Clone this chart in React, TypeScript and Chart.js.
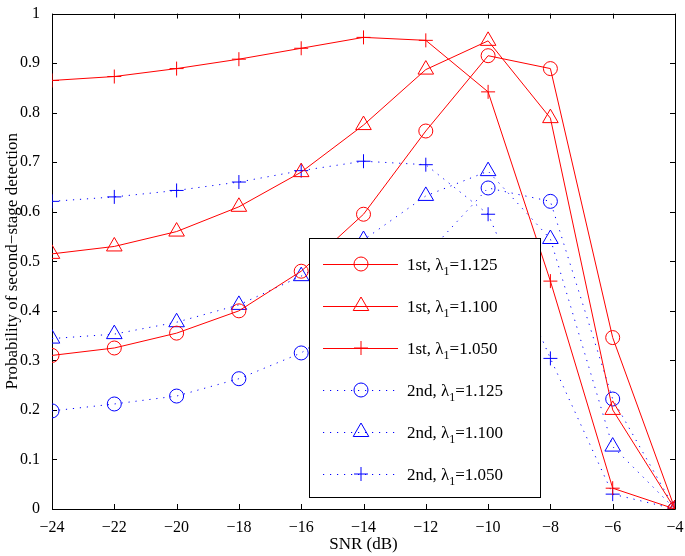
import React, { useEffect, useRef } from "react";
import { Chart, registerables } from "chart.js";

Chart.register(...registerables);

const snr = [-24, -22, -20, -18, -16, -14, -12, -10, -8, -6, -4];
const first1125 = [0.31, 0.325, 0.355, 0.4, 0.48, 0.595, 0.763, 0.915, 0.889, 0.346, 0];
const first1100 = [0.515, 0.53, 0.56, 0.61, 0.68, 0.775, 0.887, 0.945, 0.789, 0.2, 0];
const first1050 = [0.865, 0.873, 0.889, 0.908, 0.93, 0.952, 0.946, 0.842, 0.46, 0.042, 0];
const second1125 = [0.198, 0.212, 0.228, 0.263, 0.315, 0.4, 0.512, 0.648, 0.621, 0.222, 0];
const second1100 = [0.344, 0.353, 0.377, 0.412, 0.47, 0.543, 0.632, 0.682, 0.545, 0.126, 0];
const second1050 = [0.621, 0.63, 0.643, 0.66, 0.683, 0.702, 0.695, 0.595, 0.304, 0.03, 0];

const seriesLabels = ["1st", "1st", "1st", "2nd", "2nd", "2nd"];
const lambdaLabels = ["=1.125", "=1.100", "=1.050", "=1.125", "=1.100", "=1.050"];
const xTicks = [-24, -22, -20, -18, -16, -14, -12, -10, -8, -6, -4];
const yTicks = [0, 0.1, 0.2, 0.3, 0.4, 0.5, 0.6, 0.7, 0.8, 0.9, 1];

const RED = "#ff0000";
const BLUE = "#0000ff";
const FONT = "'Liberation Serif', 'Times New Roman', serif";
const DOT = [1.2, 5.8];

const styles = [
  { color: RED, marker: "circle", dash: [] as number[] },
  { color: RED, marker: "triangle", dash: [] as number[] },
  { color: RED, marker: "cross", dash: [] as number[] },
  { color: BLUE, marker: "circle", dash: DOT },
  { color: BLUE, marker: "triangle", dash: DOT },
  { color: BLUE, marker: "cross", dash: DOT },
];
const seriesData = [first1125, first1100, first1050, second1125, second1100, second1050];

function radiusFor(m: string) {
  if (m === "triangle") return 9;
  return 7;
}

function drawMarker(ctx: CanvasRenderingContext2D, m: string, x: number, y: number, color: string) {
  ctx.save();
  ctx.strokeStyle = color;
  ctx.lineWidth = 1;
  ctx.setLineDash([]);
  ctx.beginPath();
  if (m === "circle") {
    ctx.arc(x, y, 7, 0, Math.PI * 2);
  } else if (m === "triangle") {
    const r = 9;
    ctx.moveTo(x, y - r);
    ctx.lineTo(x + r * Math.sin((2 * Math.PI) / 3), y - r * Math.cos((2 * Math.PI) / 3));
    ctx.lineTo(x - r * Math.sin((2 * Math.PI) / 3), y - r * Math.cos((2 * Math.PI) / 3));
    ctx.closePath();
  } else {
    ctx.moveTo(x - 7, y);
    ctx.lineTo(x + 7, y);
    ctx.moveTo(x, y - 7);
    ctx.lineTo(x, y + 7);
  }
  ctx.stroke();
  ctx.restore();
}

const framePlugin = {
  id: "frame",
  beforeDatasetsDraw(chart: any) {
    const { ctx, chartArea } = chart;
    const { left, right, top, bottom } = chartArea;
    const xs = chart.scales.x;
    const ys = chart.scales.y;
    ctx.save();
    ctx.strokeStyle = "#000";
    ctx.lineWidth = 1;
    ctx.beginPath();
    ctx.rect(Math.round(left) + 0.5, Math.round(top) + 0.5, Math.round(right - left), Math.round(bottom - top));
    const t = 5;
    xTicks.forEach((v) => {
      const p = Math.round(xs.getPixelForValue(v)) + 0.5;
      ctx.moveTo(p, bottom);
      ctx.lineTo(p, bottom - t);
      ctx.moveTo(p, top);
      ctx.lineTo(p, top + t);
    });
    yTicks.forEach((v) => {
      const p = Math.round(ys.getPixelForValue(v)) + 0.5;
      ctx.moveTo(left, p);
      ctx.lineTo(left + t, p);
      ctx.moveTo(right, p);
      ctx.lineTo(right - t, p);
    });
    ctx.stroke();
    ctx.restore();
  },
};

const legendPlugin = {
  id: "boxLegend",
  afterDatasetsDraw(chart: any) {
    const { ctx } = chart;
    const bx = 309.5, by = 238.5, bw = 231, bh = 259;
    ctx.save();
    ctx.fillStyle = "#fff";
    ctx.fillRect(bx, by, bw, bh);
    ctx.strokeStyle = "#000";
    ctx.lineWidth = 1;
    ctx.strokeRect(bx, by, bw, bh);
    const rowY0 = 264;
    const step = 42;
    styles.forEach((s, i) => {
      const y = rowY0 + i * step;
      ctx.save();
      ctx.strokeStyle = s.color;
      ctx.lineWidth = 1;
      ctx.setLineDash(s.dash);
      ctx.beginPath();
      ctx.moveTo(323, y + 0.5);
      ctx.lineTo(398, y + 0.5);
      ctx.stroke();
      ctx.restore();
      drawMarker(ctx, s.marker, 361, y, s.color);
      ctx.fillStyle = "#000";
      ctx.textBaseline = "alphabetic";
      ctx.textAlign = "left";
      ctx.font = `17px ${FONT}`;
      const base = y + 6;
      let x = 407;
      const t1 = seriesLabels[i] + ", \u03bb";
      ctx.fillText(t1, x, base);
      x += ctx.measureText(t1).width;
      ctx.font = `12px ${FONT}`;
      ctx.fillText("1", x, base + 5);
      x += ctx.measureText("1").width;
      ctx.font = `17px ${FONT}`;
      ctx.fillText(lambdaLabels[i], x, base);
    });
    ctx.restore();
  },
};

export default function App() {
  const ref = useRef<HTMLCanvasElement | null>(null);
  useEffect(() => {
    if (!ref.current) return;
    const datasets = styles.map((s, i) => ({
      label: seriesLabels[i] + lambdaLabels[i],
      data: snr.map((x, j) => ({ x, y: seriesData[i][j] })),
      borderColor: s.color,
      backgroundColor: "rgba(0,0,0,0)",
      borderWidth: 1,
      borderDash: s.dash,
      pointStyle: s.marker,
      pointRadius: radiusFor(s.marker),
      pointBorderWidth: 1,
      pointBorderColor: s.color,
      pointBackgroundColor: "rgba(0,0,0,0)",
      tension: 0,
      fill: false,
    }));
    const chart = new Chart(ref.current, {
      type: "line",
      data: { datasets },
      options: {
        animation: false,
        responsive: false,
        maintainAspectRatio: false,
        layout: { padding: { left: 0, right: 10, top: 7, bottom: 0 } },
        plugins: { legend: { display: false }, tooltip: { enabled: false } },
        scales: {
          x: {
            type: "linear",
            min: -24,
            max: -4,
            afterBuildTicks: (scale: any) => {
              scale.ticks = xTicks.map((v) => ({ value: v }));
            },
            afterFit: (scale: any) => {
              scale.height = 47;
            },
            grid: { display: false },
            border: { display: false },
            ticks: {
              color: "#000",
              font: { family: FONT, size: 16 },
              padding: 1,
              maxRotation: 0,
              callback: (v: any) => String(v).replace("-", "\u2212"),
            },
            title: {
              display: true,
              text: "SNR (dB)",
              color: "#000",
              font: { family: FONT, size: 17 },
              padding: { top: 0, bottom: 1 },
            },
          },
          y: {
            type: "linear",
            min: 0,
            max: 1,
            afterBuildTicks: (scale: any) => {
              scale.ticks = yTicks.map((v) => ({ value: v }));
            },
            afterFit: (scale: any) => {
              scale.width = 52;
            },
            grid: { display: false },
            border: { display: false },
            ticks: {
              color: "#000",
              font: { family: FONT, size: 16 },
              padding: 4,
              callback: (v: any) => String(Number(Number(v).toFixed(1))),
            },
            title: {
              display: true,
              text: "Probability of second\u2212stage detection",
              color: "#000",
              font: { family: FONT, size: 17 },
              padding: { top: 2, bottom: 0 },
            },
          },
        },
      },
      plugins: [framePlugin, legendPlugin],
    } as any);
    return () => chart.destroy();
  }, []);
  return (
    <div style={{ position: "fixed", left: 0, top: 0, width: 685, height: 556, background: "#fff" }}>
      <canvas ref={ref} width={685} height={556} style={{ display: "block" }} />
    </div>
  );
}
